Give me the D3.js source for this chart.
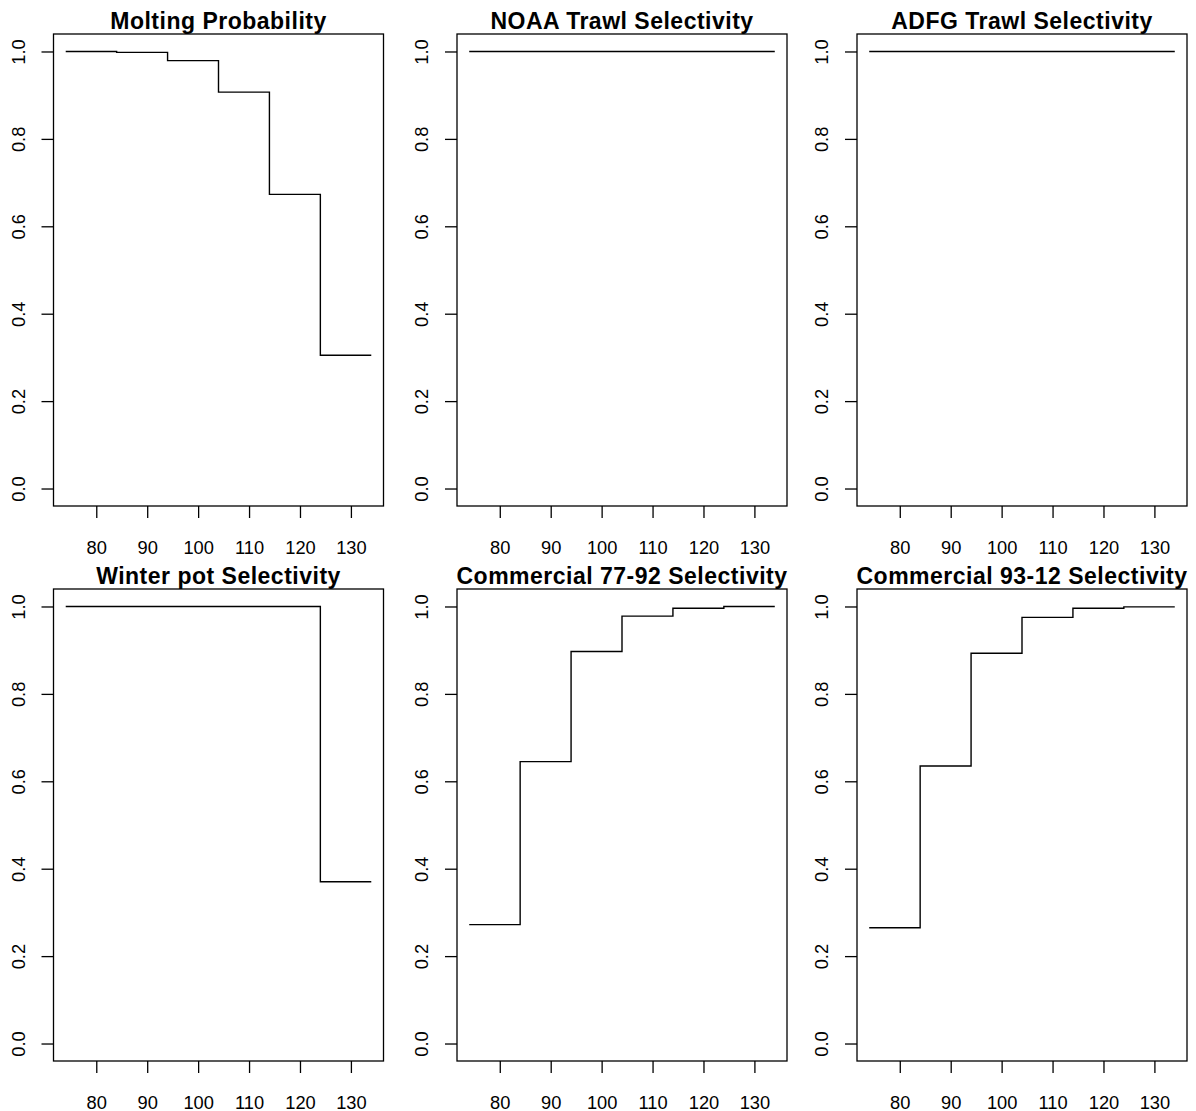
<!DOCTYPE html>
<html>
<head>
<meta charset="utf-8">
<script src="https://cdn.jsdelivr.net/npm/d3@7"></script>
<style>
  html, body { margin: 0; padding: 0; background: #fff; }
  svg { display: block; }
  text { font-family: "Liberation Sans", Arial, sans-serif; fill: #000; }
</style>
</head>
<body>
<svg id="chart" width="1196" height="1111"></svg>
<script>
// Size-class breakpoints (mm carapace length) shared by all panels
const sizes = [74, 84, 94, 104, 114, 124, 134];

// Per-panel step values, one per size breakpoint (last repeats the final bin)
const molting       = [1.000, 0.998, 0.979, 0.907, 0.673, 0.305, 0.305];
const noaaTrawl     = [1, 1, 1, 1, 1, 1, 1];
const adfgTrawl     = [1, 1, 1, 1, 1, 1, 1];
const winterPot     = [1, 1, 1, 1, 1, 0.370, 0.370];
const comm7792      = [0.272, 0.645, 0.897, 0.978, 0.996, 1.000, 1.000];
const comm9312      = [0.265, 0.635, 0.893, 0.975, 0.996, 0.999, 0.999];

const titles = [
  "Molting Probability",
  "NOAA Trawl Selectivity",
  "ADFG Trawl Selectivity",
  "Winter pot Selectivity",
  "Commercial 77-92 Selectivity",
  "Commercial 93-12 Selectivity"
];
const seriesList = [molting, noaaTrawl, adfgTrawl, winterPot, comm7792, comm9312];

const xTicks = [80, 90, 100, 110, 120, 130];
const yTicks = [0, 0.2, 0.4, 0.6, 0.8, 1.0];

// Layout of the 2 x 3 grid of plot boxes
const colLeft = [53.5, 457, 857];
const rowTop = [34, 589];
const boxW = 330, boxH = 472;

const svg = d3.select("#chart");

// Axis limits padded by 4% like a base-graphics plot
const xPad = (134 - 74) * 0.04;
const yPad = 0.04;

seriesList.forEach((vals, i) => {
  const col = i % 3, row = Math.floor(i / 3);
  const g = svg.append("g")
    .attr("transform", `translate(${colLeft[col]},${rowTop[row]})`);

  const x = d3.scaleLinear().domain([74 - xPad, 134 + xPad]).range([0, boxW]);
  const y = d3.scaleLinear().domain([0 - yPad, 1 + yPad]).range([boxH, 0]);

  // plot frame
  g.append("rect")
    .attr("x", 0).attr("y", 0)
    .attr("width", boxW).attr("height", boxH)
    .attr("fill", "none").attr("stroke", "#000").attr("stroke-width", 1.3);

  // x axis
  const xAxis = g.append("g")
    .attr("transform", `translate(0,${boxH})`)
    .call(d3.axisBottom(x).tickValues(xTicks).tickSize(12).tickPadding(24)
      .tickFormat(d3.format("d")));
  xAxis.select(".domain").remove();
  xAxis.selectAll("line").attr("stroke", "#000").attr("stroke-width", 1.3);
  xAxis.selectAll("text")
    .attr("font-size", 18.3).attr("dy", 0).attr("y", 47.5)
    .style("font-family", "'Liberation Sans', Arial, sans-serif");

  // y axis with labels rotated to read upward
  const yAxis = g.append("g")
    .call(d3.axisLeft(y).tickValues(yTicks).tickSize(12)
      .tickFormat(d3.format(".1f")));
  yAxis.select(".domain").remove();
  yAxis.selectAll("line").attr("stroke", "#000").attr("stroke-width", 1.3);
  yAxis.selectAll("text")
    .attr("font-size", 18.3)
    .attr("x", null).attr("dy", null)
    .attr("text-anchor", "middle")
    .attr("transform", "translate(-29,0) rotate(-90)")
    .style("font-family", "'Liberation Sans', Arial, sans-serif");

  // title
  g.append("text")
    .attr("x", boxW / 2).attr("y", -5)
    .attr("text-anchor", "middle")
    .attr("font-size", 23).attr("font-weight", "bold")
    .attr("letter-spacing", "0.5px")
    .text(titles[i]);

  // step line
  const pts = sizes.map((s, k) => [s, vals[k]]);
  const line = d3.line()
    .x(d => x(d[0])).y(d => y(d[1]))
    .curve(d3.curveStepAfter);
  g.append("path")
    .datum(pts)
    .attr("d", line)
    .attr("fill", "none").attr("stroke", "#000").attr("stroke-width", 1.4);
});
</script>
</body>
</html>
